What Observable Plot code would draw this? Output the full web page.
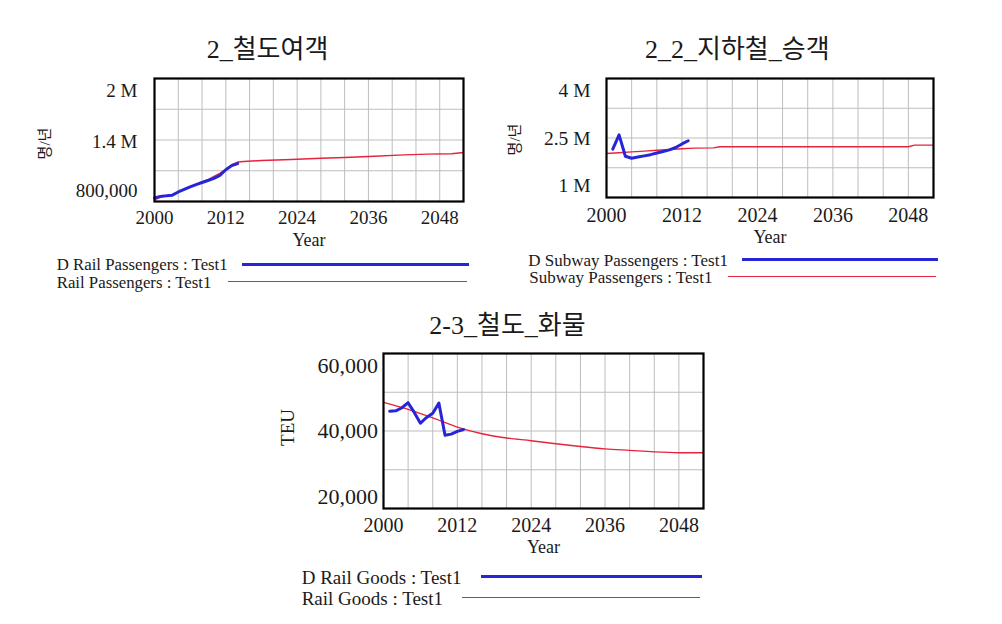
<!DOCTYPE html>
<html><head><meta charset="utf-8">
<script src="https://cdn.jsdelivr.net/npm/d3@7"></script>
<script src="https://cdn.jsdelivr.net/npm/@observablehq/plot@0.6"></script>
<style>
body{margin:0;background:#fff;}
#root{position:relative;width:1002px;height:624px;overflow:hidden;font-family:'Liberation Serif','Noto Sans CJK KR',serif;color:#1a1a1a;}
.abs{position:absolute;white-space:nowrap;line-height:1;}
.title{font-size:26px;transform:translate(-50%,-50%);}
.leg{transform:translateY(-50%);}
.ln{position:absolute;height:0;}
svg{position:absolute;overflow:visible;}
</style></head><body><div id="root"></div>
<script>
// ---------- data ----------
const titles = ["2_철도여객", "2_2_지하철_승객", "2-3_철도_화물"];
const yTitles = ["명/년", "명/년", "TEU"];
const xTitle = "Year";
const xTickYears = [2000, 2012, 2024, 2036, 2048];
const xGridYears = [2004, 2008, 2012, 2016, 2020, 2024, 2028, 2032, 2036, 2040, 2044, 2048];

// Chart 1: rail passengers
const railDYears = [2000, 2001, 2002, 2003, 2004, 2005, 2006, 2007, 2008, 2009, 2010, 2011, 2012, 2013, 2014];
const railD = [835000, 850000, 855000, 862000, 893000, 918000, 942000, 965000, 985000, 1005000, 1025000, 1055000, 1110000, 1150000, 1170000];
const railYears = [2000, 2001, 2002, 2003, 2004, 2005, 2006, 2007, 2008, 2009, 2010, 2011, 2012, 2013, 2014, 2015, 2018, 2023, 2028, 2032, 2037, 2042, 2046, 2050, 2052];
const rail = [815000, 840000, 855000, 865000, 893000, 920000, 945000, 968000, 990000, 1012000, 1045000, 1075000, 1115000, 1160000, 1185000, 1190000, 1200000, 1210000, 1222000, 1229000, 1242000, 1255000, 1262000, 1266000, 1278000];
const railYTicks = [2000000, 1400000, 800000];
const railYLabels = ["2 M", "1.4 M", "800,000"];
const railYGrid = [1100000, 1400000, 1700000];

// Chart 2: subway passengers
const subwayDYears = [2001, 2002, 2003, 2004, 2005, 2006, 2007, 2008, 2009, 2010, 2011, 2012, 2013];
const subwayD = [2220000, 2580000, 2040000, 1990000, 2020000, 2050000, 2080000, 2120000, 2160000, 2200000, 2260000, 2350000, 2430000];
const subwayYears = [2000, 2002, 2004, 2006, 2008, 2010, 2012, 2014, 2017, 2018, 2048, 2049, 2052];
const subway = [2110000, 2130000, 2150000, 2170000, 2190000, 2210000, 2230000, 2245000, 2250000, 2280000, 2280000, 2320000, 2320000];
const subwayYTicks = [4000000, 2500000, 1000000];
const subwayYLabels = ["4 M", "2.5 M", "1 M"];
const subwayYGrid = [1750000, 2500000, 3250000];

// Chart 3: rail goods
const goodsDYears = [2001, 2002, 2003, 2004, 2005, 2006, 2007, 2008, 2009, 2010, 2011, 2012, 2013];
const goodsD = [45100, 45200, 46000, 47300, 44800, 42000, 43500, 44600, 47200, 38900, 39200, 39900, 40400];
const goodsYears = [2000, 2004, 2008, 2012, 2016, 2020, 2024, 2028, 2032, 2036, 2040, 2044, 2048, 2052];
const goods = [47400, 45600, 43400, 41000, 39300, 38200, 37500, 36700, 36000, 35400, 35000, 34600, 34400, 34400];
const goodsYTicks = [60000, 40000, 20000];
const goodsYLabels = ["60,000", "40,000", "20,000"];
const goodsYGrid = [30000, 40000, 50000];

const legends = [
  ["D Rail Passengers : Test1", "Rail Passengers : Test1"],
  ["D Subway Passengers : Test1", "Subway Passengers : Test1"],
  ["D Rail Goods : Test1", "Rail Goods : Test1"]
];

// ---------- styles ----------
const BLUE = "#2626d8", RED = "#e6243c", GRID = "#bdbdbd";
const root = document.getElementById("root");
const rows = (xs, vs) => xs.map((x, i) => ({year: x, value: vs[i]}));

function chart(o) {
  const marks = [
    Plot.gridX(xGridYears, {stroke: GRID, strokeOpacity: 1, strokeWidth: 1}),
    Plot.gridY(o.yGrid, {stroke: GRID, strokeOpacity: 1, strokeWidth: 1}),
    Plot.line(rows(o.years, o.vals), {x: "year", y: "value", stroke: RED, strokeWidth: 1.4, curve: o.curve || "linear"}),
    Plot.line(rows(o.dYears, o.dVals), {x: "year", y: "value", stroke: BLUE, strokeWidth: 3, strokeLinejoin: "round"}),
    Plot.frame({stroke: "#000", strokeWidth: 2.2}),
    Plot.axisX(xTickYears, {tickSize: 0, tickPadding: o.xPad, tickFormat: d => String(d), fontSize: o.xFont, label: null}),
    ...o.yTicks.map((t, i) => Plot.axisY([t], {tickSize: 0, tickPadding: o.yPad, tickFormat: () => o.yLabels[i], fontSize: o.yFont, dy: o.yDy[i], label: null})),
    Plot.text([xTitle], {frameAnchor: "bottom", dy: o.yearDy, lineAnchor: "middle", fontSize: 18}),
    Plot.text([o.yTitle], {frameAnchor: "left", dx: o.yTitleDx, dy: o.yTitleDy, rotate: -90, lineAnchor: "middle", textAnchor: "middle", fontSize: o.yTitleFont})
  ];
  const svg = Plot.plot({
    width: o.width, height: o.height,
    marginLeft: o.mL, marginRight: o.mR, marginTop: o.mT, marginBottom: o.mB,
    x: {domain: [2000, 2052]},
    y: {domain: o.yDomain},
    style: {fontFamily: "'Liberation Serif','Noto Sans CJK KR',serif", color: "#1a1a1a", background: "transparent", overflow: "visible"},
    marks
  });
  svg.style.left = o.left + "px";
  svg.style.top = o.top + "px";
  root.appendChild(svg);
}

function title(text, cx, cy) {
  const d = document.createElement("div");
  d.className = "abs title"; d.textContent = text;
  d.style.left = cx + "px"; d.style.top = cy + "px";
  root.appendChild(d);
}
function legend(text, x, y, fs, lx1, lx2, ly, color, lw) {
  const d = document.createElement("div");
  d.className = "abs leg"; d.textContent = text;
  d.style.left = x + "px"; d.style.top = y + "px"; d.style.fontSize = fs + "px";
  root.appendChild(d);
  const l = document.createElement("div");
  l.className = "ln";
  l.style.left = lx1 + "px"; l.style.width = (lx2 - lx1) + "px";
  l.style.top = (ly - lw / 2) + "px"; l.style.borderTop = lw + "px solid " + color;
  root.appendChild(l);
}

// Chart 1
title(titles[0], 267.5, 50);
chart({left: 0, top: 60, width: 480, height: 200, mL: 154, mR: 17, mT: 18, mB: 59,
  yDomain: [800000, 2000000], yGrid: railYGrid, yTicks: railYTicks, yLabels: railYLabels, yDy: [12, 2, -11],
  yPad: 17, yFont: 19, xPad: 9, xFont: 19, yearDy: 39, yTitle: yTitles[0], yTitleDx: -109, yTitleDy: 3.5, yTitleFont: 15,
  years: railYears, vals: rail, dYears: railDYears, dVals: railD});
legend(legends[0][0], 56.7, 265, 16.8, 242, 469, 264.3, BLUE, 3);
legend(legends[0][1], 56.7, 283, 16.8, 228, 467, 281.5, RED, 1.5);

// Chart 2
title(titles[1], 737.3, 50);
chart({left: 490, top: 60, width: 460, height: 200, mL: 116, mR: 17, mT: 18, mB: 63,
  yDomain: [1000000, 4000000], yGrid: subwayYGrid, yTicks: subwayYTicks, yLabels: subwayYLabels, yDy: [12, 1, -11.5],
  yPad: 16, yFont: 19.5, xPad: 10, xFont: 20, yearDy: 39.3, yTitle: yTitles[1], yTitleDx: -91, yTitleDy: 1.5, yTitleFont: 15,
  years: subwayYears, vals: subway, dYears: subwayDYears, dVals: subwayD});
legend(legends[1][0], 528.3, 259.5, 17, 741.7, 938.3, 259, BLUE, 3);
legend(legends[1][1], 529.3, 277.2, 17, 728.3, 936, 276.3, RED, 1.5);

// Chart 3
title(titles[2], 507.5, 326);
chart({left: 260, top: 340, width: 460, height: 230, mL: 123, mR: 17, mT: 13, mB: 62,
  yDomain: [20000, 60000], yGrid: goodsYGrid, yTicks: goodsYTicks, yLabels: goodsYLabels, yDy: [12.3, 0, -11.6],
  yPad: 5.5, yFont: 22, xPad: 9, xFont: 20, yearDy: 38.4, yTitle: yTitles[2], yTitleDx: -96, yTitleDy: -3.5, yTitleFont: 19,
  years: goodsYears, vals: goods, dYears: goodsDYears, dVals: goodsD, curve: "monotone-x"});
legend(legends[2][0], 301.7, 577, 19, 480.7, 701.7, 576.3, BLUE, 3);
legend(legends[2][1], 301.7, 598, 19, 462.3, 700, 597.7, RED, 1.5);
</script></body></html>
